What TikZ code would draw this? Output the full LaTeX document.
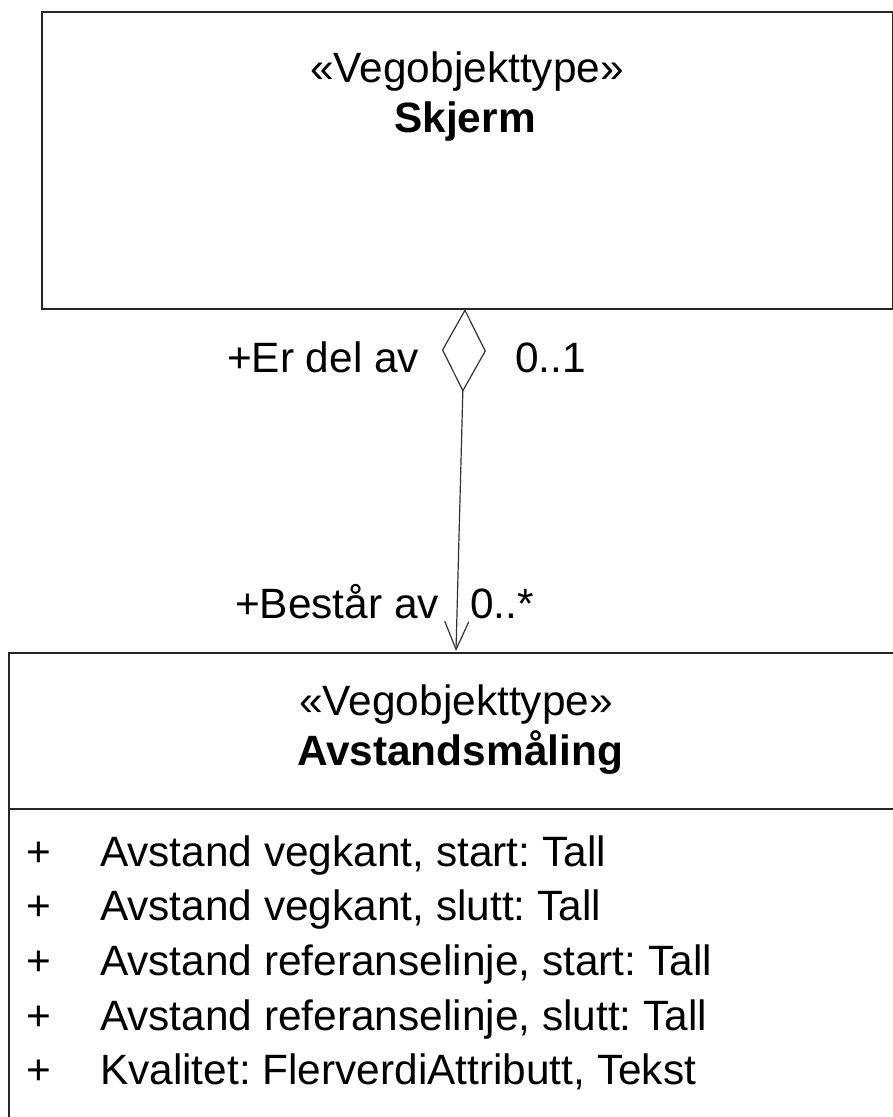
\documentclass[tikz,border=0pt]{standalone}
\usepackage{fontspec}
\setmainfont{Liberation Sans}
\usetikzlibrary{arrows.meta}
\frenchspacing
\begin{document}
\begin{tikzpicture}[x=1pt,y=-1pt,
  boxline/.style={draw=black!85,line width=1.6pt},
  txt/.style={inner sep=0pt,outer sep=0pt,font=\fontsize{42.4}{50}\selectfont\frenchspacing},
  conn/.style={draw=black!80,line width=1.2pt}]
\useasboundingbox (0,0) rectangle (893,1117);
\begin{scope}
\clip (0,0) rectangle (893,1117);
\node[boxline,anchor=north west,minimum width=851pt,minimum height=297pt,inner sep=0pt] (skjerm) at (41,11) {};
\node[boxline,anchor=north west,minimum width=898pt,minimum height=500pt,inner sep=0pt] (avst) at (8,652) {};
\coordinate (divL) at (8,809);
\coordinate (divR) at (906,809);
\draw[boxline] (divL) -- (divR);
\end{scope}
% titles
\node[txt,anchor=base] (st1) at (467,82) {«Vegobjekttype»};
\node[txt,anchor=base] (st2) at (465,132) {\bfseries Skjerm};
\node[txt,anchor=base] (at1) at (456,715) {«Vegobjekttype»};
\node[txt,anchor=base] (at2) at (460,765) {\bfseries Avstandsmåling};
% connector
\coordinate (dtop) at (465,309);
\coordinate (atip) at (456,651);
\draw[conn,{Diamond[open,length=83pt,width=44pt,line width=1.2pt]}-{Straight Barb[length=28pt,width=24pt,line width=1.2pt]}] (dtop) -- (atip);
% role labels
\node[txt,anchor=base west] (r1) at (227,372) {+Er del av};
\node[txt,anchor=base west] (m1) at (515,372) {0..1};
\node[txt,anchor=base west] (r2) at (235,618) {+Består av};
\node[txt,anchor=base west] (m2) at (470,618) {0..*};
% attributes
\foreach \y/\t [count=\i] in {866/{Avstand vegkant, start: Tall},920/{Avstand vegkant, slutt: Tall},975/{Avstand referanselinje, start: Tall},1030/{Avstand referanselinje, slutt: Tall},1084/{Kvalitet: FlerverdiAttributt, Tekst}}{
  \node[txt,anchor=base west] (p\i) at (27,\y) {+};
  \node[txt,anchor=base west] (a\i) at (100,\y) {\t};
}
\end{tikzpicture}
\end{document}
